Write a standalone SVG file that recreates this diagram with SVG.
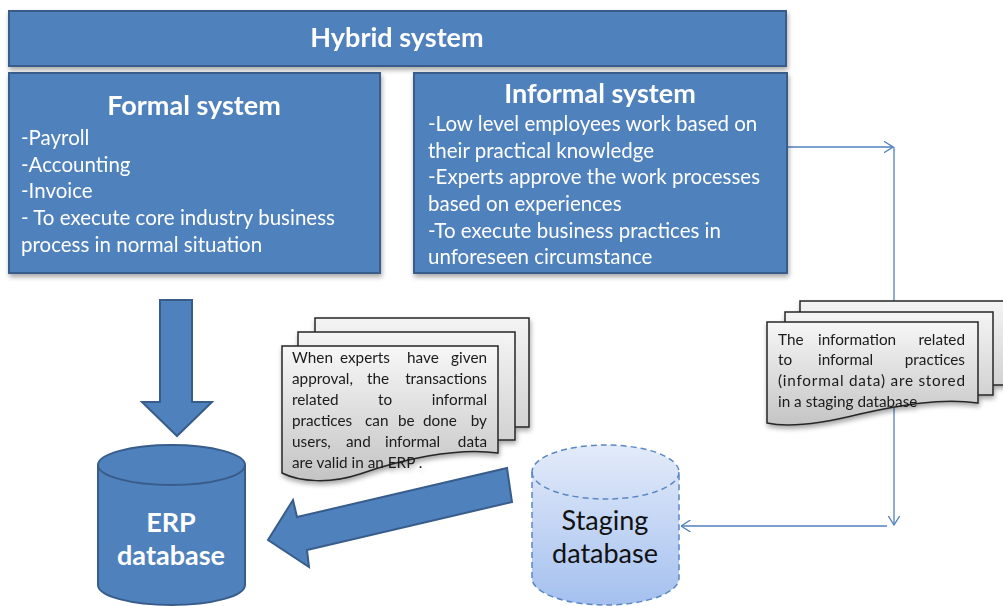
<svg xmlns="http://www.w3.org/2000/svg" width="1003" height="606" viewBox="0 0 1003 606">
  <defs>
    <style>
      .box { fill: #4f81bd; stroke: #385d8a; stroke-width: 2; }
      .title { font-family: Lato, "Liberation Sans", sans-serif; font-weight: bold; font-size: 27px; fill: #ffffff; text-anchor: middle; }
      .body { font-family: Lato, "Liberation Sans", sans-serif; font-size: 20.5px; fill: #ffffff; }
      .doc { stroke: #262626; stroke-width: 1.5; }
      .doctext { font-family: Lato, "Liberation Sans", sans-serif; font-size: 15.3px; fill: #1a1a1a; }
      .end { text-anchor: end; }
      .conn { fill: none; stroke: #4f81bd; stroke-width: 1.3; }
      .dbtext { font-family: Lato, "Liberation Sans", sans-serif; font-size: 27px; text-anchor: middle; }
    </style>
    <linearGradient id="paper" x1="0" y1="0" x2="0" y2="1">
      <stop offset="0" stop-color="#f7f7f7"/>
      <stop offset="1" stop-color="#c4c4c4"/>
    </linearGradient>
    <linearGradient id="paperBack" x1="0" y1="0" x2="0" y2="1">
      <stop offset="0" stop-color="#f4f4f4"/>
      <stop offset="1" stop-color="#d2d2d2"/>
    </linearGradient>
    <linearGradient id="staging" x1="0" y1="0" x2="0" y2="1">
      <stop offset="0" stop-color="#e3ebf9"/>
      <stop offset="1" stop-color="#a4c0ef"/>
    </linearGradient>
    <filter id="shadow" x="-10%" y="-10%" width="130%" height="140%">
      <feGaussianBlur in="SourceAlpha" stdDeviation="2.5"/>
      <feOffset dx="1" dy="3" result="b"/>
      <feComponentTransfer><feFuncA type="linear" slope="0.35"/></feComponentTransfer>
      <feMerge><feMergeNode/><feMergeNode in="SourceGraphic"/></feMerge>
    </filter>
    <marker id="open" viewBox="0 0 10 12" refX="9.5" refY="6" markerWidth="10" markerHeight="12" markerUnits="userSpaceOnUse" orient="auto">
      <path d="M0,0 L9.5,6 L0,12" fill="none" stroke="#4f81bd" stroke-width="1.3"/>
    </marker>
  </defs>

  <rect width="1003" height="606" fill="#ffffff"/>

  <!-- connectors -->
  <g id="connectors">
    <path class="conn" d="M787,147 H893" marker-end="url(#open)"/>
    <path class="conn" d="M894,147 V525" marker-end="url(#open)"/>
    <path class="conn" d="M887,526 H681" marker-end="url(#open)"/>
  </g>

  <!-- hybrid system banner -->
  <g id="hybrid" filter="url(#shadow)">
    <rect class="box" x="9" y="11" width="777" height="55"/>
    <text class="title" x="397" y="47">Hybrid system</text>
  </g>

  <!-- formal system -->
  <g id="formal" filter="url(#shadow)">
    <rect class="box" x="9" y="73" width="371" height="200"/>
    <text class="title" x="194" y="115">Formal system</text>
    <text class="body" x="21" y="145">-Payroll</text>
    <text class="body" x="21" y="172">-Accounting</text>
    <text class="body" x="21" y="198">-Invoice</text>
    <text class="body" x="21" y="225">- To execute core industry business</text>
    <text class="body" x="21" y="252">process in normal situation</text>
  </g>

  <!-- informal system -->
  <g id="informal" filter="url(#shadow)">
    <rect class="box" x="414" y="73" width="373" height="200"/>
    <text class="title" x="600" y="103">Informal system</text>
    <text class="body" x="428" y="131">-Low level employees work based on</text>
    <text class="body" x="428" y="158">their practical knowledge</text>
    <text class="body" x="428" y="184">-Experts approve the work processes</text>
    <text class="body" x="428" y="211">based on experiences</text>
    <text class="body" x="428" y="238">-To execute business practices in</text>
    <text class="body" x="428" y="264">unforeseen circumstance</text>
  </g>

  <!-- block arrow: formal system down to ERP database -->
  <g id="arrow-down">
    <path class="box" d="M160,300 H192 V402 H212 L177,436 L142,402 H160 Z"/>
  </g>

  <!-- ERP database cylinder -->
  <g id="erp">
    <path class="box" d="M98,465 V585 A73.5,20 0 0 0 245,585 V465"/>
    <ellipse class="box" cx="171.5" cy="465" rx="73.5" ry="20"/>
    <text class="dbtext" x="171" y="532" fill="#ffffff" font-weight="bold">ERP</text>
    <text class="dbtext" x="171" y="565" fill="#ffffff" font-weight="bold">database</text>
  </g>

  <!-- block arrow: staging database to ERP database -->
  <g id="arrow-left">
    <path class="box" d="M507,468 L512,502 L307,550 L309,567 L268,540 L293,500 L297,517 Z"/>
  </g>

  <!-- staging database cylinder -->
  <g id="staging-db">
    <path d="M532,472 V578 A73.5,27 0 0 0 679,578 V472 A73.5,27 0 0 0 532,472 Z" fill="url(#staging)" stroke="#5b87c5" stroke-width="1.5" stroke-dasharray="6 4"/>
    <path d="M532,472 A73.5,27 0 0 0 679,472" fill="none" stroke="#5b87c5" stroke-width="1.5" stroke-dasharray="6 4"/>
    <text class="dbtext" x="605" y="530" fill="#111111">Staging</text>
    <text class="dbtext" x="605" y="563" fill="#111111">database</text>
  </g>

  <!-- approval note (stacked documents) -->
  <g id="note-approval" filter="url(#shadow)">
    <rect class="doc" x="315" y="318" width="214" height="109" fill="url(#paperBack)"/>
    <rect class="doc" x="298" y="332" width="217" height="108" fill="url(#paperBack)"/>
    <path class="doc" d="M282,346 H498 V453 C455,447 400,460 360,474 C330,484 300,482 282,473 Z" fill="url(#paper)"/>
    <text class="doctext" y="363"><tspan x="292">When</tspan><tspan x="340">experts</tspan><tspan x="407">have</tspan><tspan class="end" x="487">given</tspan></text>
    <text class="doctext" y="384"><tspan x="292">approval,</tspan><tspan x="367">the</tspan><tspan class="end" x="487">transactions</tspan></text>
    <text class="doctext" y="405"><tspan x="292">related</tspan><tspan x="378">to</tspan><tspan class="end" x="487">informal</tspan></text>
    <text class="doctext" y="426"><tspan x="292">practices</tspan><tspan x="365">can</tspan><tspan x="398">be</tspan><tspan x="423">done</tspan><tspan class="end" x="487">by</tspan></text>
    <text class="doctext" y="447"><tspan x="292">users,</tspan><tspan x="346">and</tspan><tspan x="385">informal</tspan><tspan class="end" x="487">data</tspan></text>
    <text class="doctext" x="292" y="468">are valid in an ERP .</text>
  </g>

  <!-- staging note (stacked documents) -->
  <g id="note-staging" filter="url(#shadow)">
    <rect class="doc" x="800" y="301" width="215" height="84" fill="url(#paperBack)"/>
    <rect class="doc" x="785" y="312" width="208" height="83" fill="url(#paperBack)"/>
    <path class="doc" d="M767,322 H978 V403 C940,398 900,405 860,414 C820,424 790,428 767,423 Z" fill="url(#paper)"/>
    <text class="doctext" y="345"><tspan x="778">The</tspan><tspan x="818">information</tspan><tspan class="end" x="965">related</tspan></text>
    <text class="doctext" y="365"><tspan x="778">to</tspan><tspan x="818">informal</tspan><tspan class="end" x="965">practices</tspan></text>
    <text class="doctext" x="778" y="386" textLength="187" lengthAdjust="spacing">(informal data) are stored</text>
    <text class="doctext" x="778" y="407">in a staging database</text>
  </g>
</svg>
